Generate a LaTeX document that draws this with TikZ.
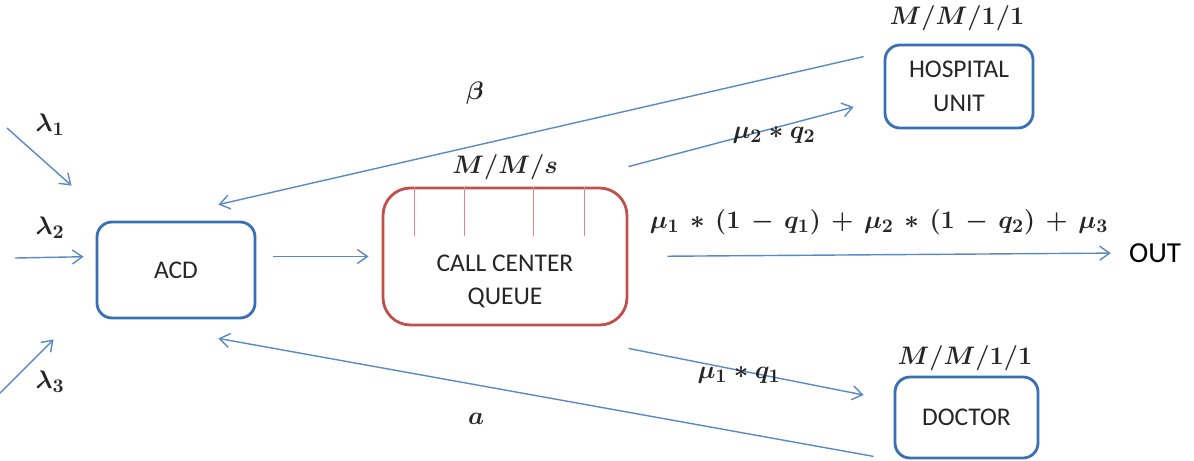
\documentclass[tikz,border=0pt]{standalone}
\usepackage{fontspec}
\setmainfont{Carlito}
\usetikzlibrary{arrows.meta,positioning,calc}
\definecolor{boxblue}{HTML}{3A6EB5}
\definecolor{flowblue}{HTML}{5A8AC6}
\definecolor{queuered}{HTML}{C0504D}
\definecolor{tickred}{HTML}{D98A88}
\definecolor{labeltext}{HTML}{262626}

\begin{document}
\begin{tikzpicture}[>={Straight Barb[length=2mm,width=2.8mm]},
 font=\fontsize{14.5}{19}\selectfont,
 box/.style={draw=boxblue,line width=1.6pt,rounded corners=0.3cm,align=center,text=labeltext},
 flow/.style={->,flowblue,line width=0.8pt},
 tick/.style={tickred,line width=1pt},
 lbl/.style={text=labeltext,font=\fontsize{15}{18}\selectfont\boldmath}]
\useasboundingbox (0,0) rectangle (23.88,-9.2);
% stations
\node[box,minimum width=3.16cm,minimum height=1.92cm] (acd) at (3.52,-5.40) {ACD};
\node[box,draw=queuered,rounded corners=0.55cm,minimum width=4.88cm,minimum height=2.74cm,
 label={[align=center,text=labeltext,yshift=-0.5cm]center:CALL CENTER\\QUEUE}] (queue) at (10.10,-5.13) {};
\node[box,minimum width=2.96cm,minimum height=1.66cm] (hosp) at (19.18,-1.73) {HOSPITAL\\UNIT};
\node[box,minimum width=2.86cm,minimum height=1.62cm] (doc) at (19.33,-8.35) {DOCTOR};
\node[font=\fontsize{16.5}{19}\selectfont] (out) at (23.1,-5.06) {OUT};
\foreach \dx in {0.66,1.66,3.04,4.06}
 \draw[tick] ($(queue.north west)+(\dx,0)$) -- ++(0,-0.98);
% queue models
\node[lbl] (qs) at (10.1,-3.34) {$M/M/s$};
\node[lbl] (qh) at (19.14,-0.36) {$M/M/1/1$};
\node[lbl] (qd) at (19.3,-7.16) {$M/M/1/1$};
% arrivals
\coordinate (in1) at (0.14,-2.56);
\coordinate (in2) at (0.3,-5.16);
\coordinate (in3) at (0.0,-7.86);
\draw[flow] (in1) -- ($(acd.north west)+(-0.48,0.70)$);
\draw[flow,shorten >=0.24cm] (in2) -- (acd.west |- queue.west);
\draw[flow] (in3) -- ($(acd.south west)+(-0.84,-0.40)$);
\node[lbl] (l1) at (1.0,-2.5) {$\lambda_1$};
\node[lbl] (l2) at (1.0,-4.56) {$\lambda_2$};
\node[lbl] (l3) at (1.0,-7.64) {$\lambda_3$};
% flows
\draw[flow,shorten <=0.34cm,shorten >=0.26cm] (acd.east |- queue.west) -- (queue.west);
\draw[flow] ($(hosp.north west)+(-0.4,-0.26)$) -- ($(acd.north east)+(-0.76,0.32)$);
\draw[flow] ($(doc.south west)+(-0.4,0.06)$) -- ($(acd.south east)+(-0.76,-0.38)$);
\draw[flow] ($(queue.north east)+(0,0.4)$) -- ($(hosp.west)+(-0.6,-0.41)$);
\draw[flow] ($(queue.south east)+(0,-0.44)$) -- ($(doc.west)+(-0.6,0.45)$);
\draw[flow,shorten <=0.78cm,shorten >=0.24cm] (queue.east) -- (out.west);
\node[lbl] (beta) at (9.5,-1.86) {$\beta$};
\node[lbl] (alpha) at (9.52,-8.38) {$a$};
\node[lbl] (m2) at (15.48,-2.7) {$\mu_2*q_2$};
\node[lbl] (m1) at (14.78,-7.5) {$\mu_1*q_1$};
\node[lbl,font=\fontsize{15.5}{18}\selectfont\boldmath] (mout) at (17.58,-4.44)
 {$\medmuskip=6.5mu \mu_1*(1-q_1)+\mu_2*(1-q_2)+\mu_3$};
\end{tikzpicture}
\end{document}
